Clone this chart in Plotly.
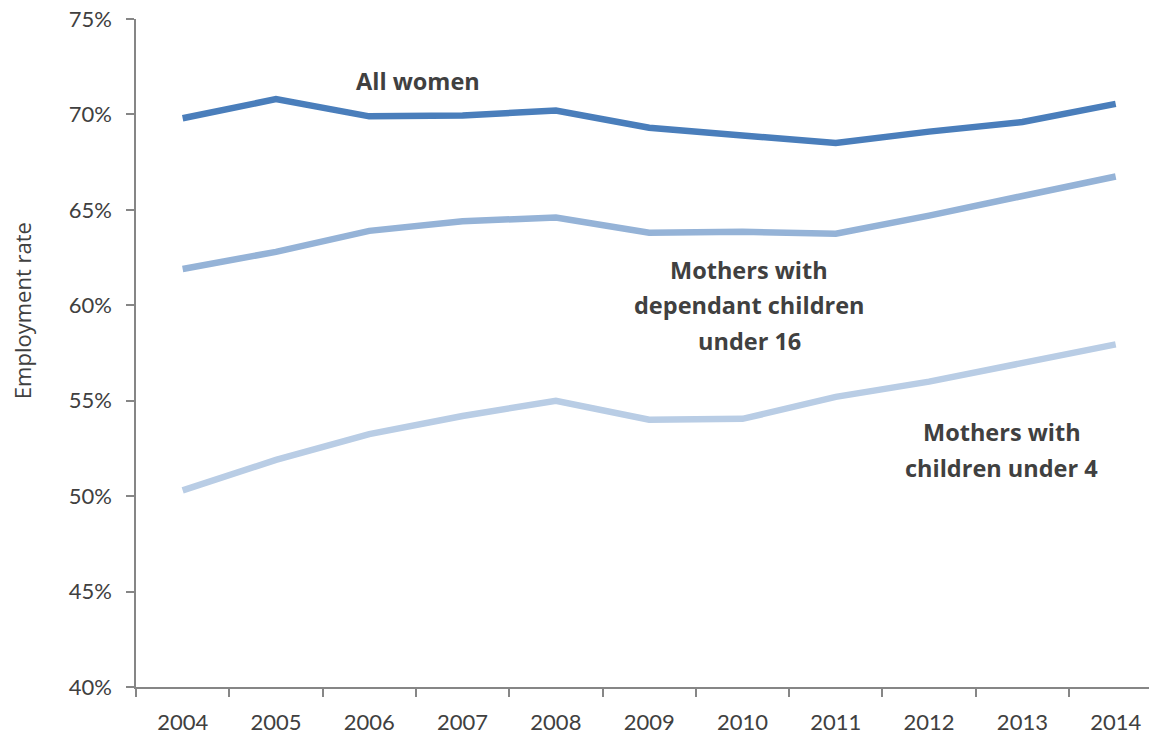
import plotly.graph_objects as go

years = ["2004", "2005", "2006", "2007", "2008", "2009", "2010", "2011", "2012", "2013", "2014"]
all_women = [69.8, 70.8, 69.9, 69.95, 70.2, 69.3, 68.9, 68.5, 69.1, 69.6, 70.55]
mothers_dep_u16 = [61.9, 62.8, 63.9, 64.4, 64.6, 63.8, 63.85, 63.75, 64.7, 65.7, 66.75]
mothers_u4 = [50.3, 51.9, 53.25, 54.2, 55.0, 54.0, 54.05, 55.2, 56.0, 57.0, 57.95]
y_ticks = [40, 45, 50, 55, 60, 65, 70, 75]

TEXT = "#404040"
AXIS = "#868686"
TICK_FONT = "Lato"
LABEL_FONT = "Open Sans"

# plot area in pixels (used to place the free-standing axis title)
L, T, B, W, H = 136, 19, 46, 1149, 735
plot_w, plot_h = W - L, H - T - B

fig = go.Figure()
series = [
    (mothers_u4, "#B9CDE5"),
    (mothers_dep_u16, "#95B3D7"),
    (all_women, "#4A7EBB"),
]
for vals, col in series:
    fig.add_trace(go.Scatter(
        x=years, y=vals, mode="lines",
        line=dict(color=col, width=6.5),
        hoverinfo="skip", showlegend=False,
    ))

# series labels, one annotation per text line
labels = [
    ("All women", 2.52, 71.76),
    ("Mothers with", 6.07, 61.85),
    ("dependant children", 6.07, 60.0),
    ("under 16", 6.07, 58.15),
    ("Mothers with", 8.78, 53.35),
    ("children under 4", 8.78, 51.45),
]
for txt, xi, yv in labels:
    fig.add_annotation(
        x=xi, y=yv, xref="x", yref="y", text=f"<b>{txt}</b>",
        showarrow=False, xanchor="center", yanchor="middle",
        font=dict(family=LABEL_FONT, size=23.5, color=TEXT),
    )

# y-axis title
fig.add_annotation(
    x=(22 - L) / plot_w, y=(H - B - 312) / plot_h, xref="paper", yref="paper",
    text="Employment rate", textangle=-90, showarrow=False,
    xanchor="center", yanchor="middle",
    font=dict(family=LABEL_FONT, size=22, color=TEXT),
)

fig.update_layout(
    width=W, height=H,
    margin=dict(l=L, r=0, t=T, b=B),
    paper_bgcolor="white", plot_bgcolor="white",
    font=dict(family=TICK_FONT, color=TEXT),
    xaxis=dict(
        type="category", range=[-0.5, 10.357],
        tickson="boundaries", ticks="outside", ticklen=8, tickwidth=1.5,
        tickcolor=AXIS, showline=True, linecolor=AXIS, linewidth=1.5,
        showgrid=False, zeroline=False,
        tickfont=dict(family=TICK_FONT, size=22, color=TEXT),
        ticklabelstandoff=15,
    ),
    yaxis=dict(
        range=[40, 75], tickvals=y_ticks,
        ticktext=[f"{v}%" for v in y_ticks],
        ticks="outside", ticklen=8, tickwidth=1.5, tickcolor=AXIS,
        showline=True, linecolor=AXIS, linewidth=1.5,
        showgrid=False, zeroline=False,
        tickfont=dict(family=TICK_FONT, size=22, color=TEXT),
        ticklabelstandoff=10,
    ),
)

fig.write_html("out.html")
